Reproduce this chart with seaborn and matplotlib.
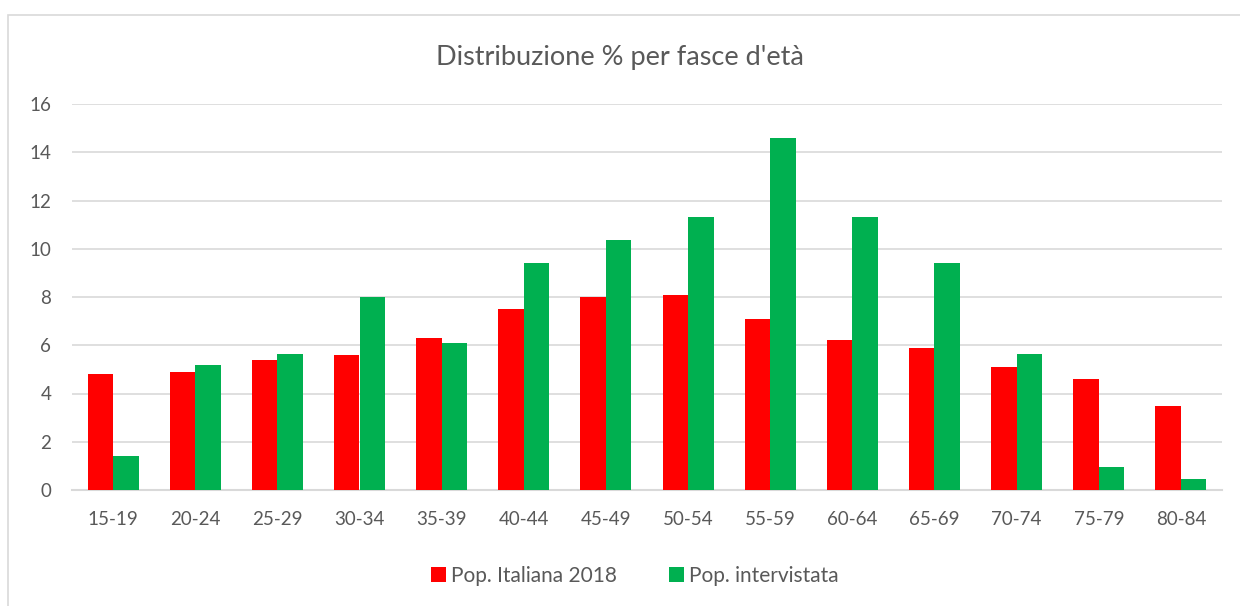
import pandas as pd
import seaborn as sns
import matplotlib.pyplot as plt
from matplotlib.patches import Rectangle

# age groups and the two series (% share)
fasce = ["15-19", "20-24", "25-29", "30-34", "35-39", "40-44", "45-49",
         "50-54", "55-59", "60-64", "65-69", "70-74", "75-79", "80-84"]
pop_italiana = [4.8, 4.9, 5.4, 5.6, 6.3, 7.5, 8.0, 8.1, 7.1, 6.2, 5.9, 5.1, 4.6, 3.5]
pop_intervistata = [1.4, 5.2, 5.65, 8.0, 6.1, 9.4, 10.35, 11.3, 14.6, 11.3, 9.4, 5.65, 0.94, 0.47]
serie = ["Pop. Italiana 2018", "Pop. intervistata"]

df = pd.DataFrame({
    "fascia": fasce * 2,
    "valore": pop_italiana + pop_intervistata,
    "serie": [serie[0]] * len(fasce) + [serie[1]] * len(fasce),
})

sns.set_style("white")
plt.rcParams['font.family'] = ['Lato', 'DejaVu Sans']
grey = "#595959"

fig = plt.figure(figsize=(12.4, 6.06), dpi=100)
ax = fig.add_axes([72 / 1240, 1 - 490 / 606, 1150 / 1240, 386 / 606])

sns.barplot(data=df, x="fascia", y="valore", hue="serie", order=fasce,
            palette={serie[0]: "#FF0000", serie[1]: "#00B050"},
            width=0.62, gap=0, saturation=1, linewidth=0, ax=ax, zorder=3)

ax.set_ylim(0, 16)
ax.set_xlim(-0.5, len(fasce) - 0.5)
ax.set_yticks(range(0, 17, 2))
ax.yaxis.grid(True, color="#D9D9D9", linewidth=1.2, zorder=0)
ax.set_axisbelow(True)
for s in ["top", "right", "left"]:
    ax.spines[s].set_visible(False)
ax.spines["bottom"].set_color("#D9D9D9")
ax.spines["bottom"].set_linewidth(1.5)
ax.tick_params(axis="both", length=0, labelsize=13.5, colors=grey)
ax.tick_params(axis="x", pad=15)
ax.tick_params(axis="y", pad=15)
ax.set_xlabel("")
ax.set_ylabel("")

fig.text(0.5, 1 - 57 / 606, "Distribuzione % per fasce d'età", ha="center", va="center",
         fontsize=19.5, color=grey)

leg = ax.legend(loc="center", bbox_to_anchor=(0.5 - 12 / 1150, (576 - 490) / -386), ncol=2,
                frameon=False, fontsize=15, handlelength=0.7, handleheight=0.7,
                handletextpad=0.25, columnspacing=2.5)
for t in leg.get_texts():
    t.set_color(grey)

# chart area border
fig.patches.append(Rectangle((8 / 1240, -0.1), 1.2, 1 - 15 / 606 + 0.1,
                             transform=fig.transFigure, fill=False,
                             edgecolor="#D9D9D9", linewidth=1.2))

fig.savefig("out.png", dpi=100)
